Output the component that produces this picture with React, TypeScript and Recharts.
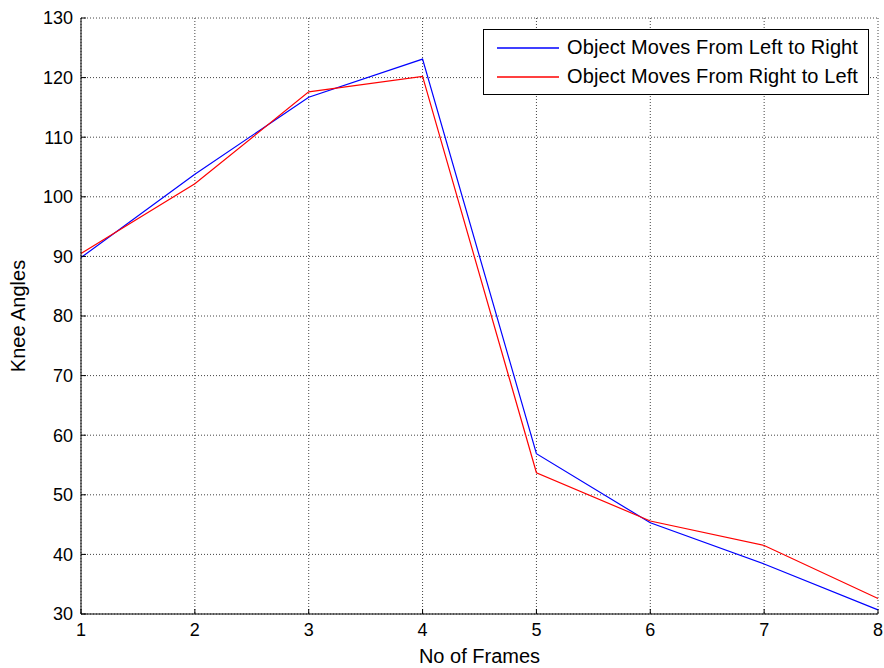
import React from 'react';
import { LineChart, Line, XAxis, YAxis, CartesianGrid, Legend, Label } from 'recharts';

const FRAMES = [1, 2, 3, 4, 5, 6, 7, 8];
const LEFT_TO_RIGHT = [89.8, 103.8, 116.7, 123.1, 56.9, 45.3, 38.4, 30.7];
const RIGHT_TO_LEFT = [90.5, 102.2, 117.6, 120.2, 53.7, 45.6, 41.5, 32.6];
const Y_TICKS = [30, 40, 50, 60, 70, 80, 90, 100, 110, 120, 130];

const data = FRAMES.map((f, i) => ({ frame: f, ltr: LEFT_TO_RIGHT[i], rtl: RIGHT_TO_LEFT[i] }));

const FONT = '"Liberation Sans", Arial, sans-serif';
const tick = { fontSize: 18, fill: '#000', fontFamily: FONT };
const noLabel = () => '';

function BoxLegend(props: any) {
  const items = props.payload || [];
  return (
    <div style={{ border: '1px solid #000', background: '#fff', padding: '3px 0', fontFamily: FONT, fontSize: 20, letterSpacing: 0.1 }}>
      {items.map((it: any) => (
        <div key={it.value} style={{ display: 'flex', alignItems: 'center', height: 29 }}>
          <svg width={62} height={4} style={{ marginLeft: 13, marginRight: 8 }}>
            <line x1={0} x2={62} y1={2} y2={2} stroke={it.color} strokeWidth={1.3} />
          </svg>
          <span style={{ color: '#000' }}>{it.value}</span>
        </div>
      ))}
    </div>
  );
}

export default function App() {
  return (
    <div style={{ position: 'absolute', left: 0, top: 0, background: '#fff' }}>
      <LineChart width={884} height={668} data={data} margin={{ top: 18, right: 6, left: 0, bottom: 0 }}>
        <CartesianGrid stroke="#444" strokeDasharray="1 2" />
        <XAxis
          dataKey="frame"
          type="number"
          domain={[1, 8]}
          ticks={FRAMES}
          height={54}
          tick={tick}
          tickSize={-5}
          tickMargin={14}
          axisLine={{ stroke: '#000' }}
          tickLine={{ stroke: '#000' }}
        >
          <Label value="No of Frames" position="insideBottom" offset={5} style={{ fontSize: 20, fill: '#000', fontFamily: FONT }} />
        </XAxis>
        <XAxis
          xAxisId="top"
          orientation="top"
          dataKey="frame"
          type="number"
          domain={[1, 8]}
          ticks={FRAMES}
          height={0}
          tickFormatter={noLabel}
          tickSize={-5}
          axisLine={{ stroke: '#000' }}
          tickLine={{ stroke: '#000' }}
        />
        <YAxis
          type="number"
          domain={[30, 130]}
          ticks={Y_TICKS}
          width={81}
          tick={tick}
          tickSize={-5}
          tickMargin={13}
          axisLine={{ stroke: '#000' }}
          tickLine={{ stroke: '#000' }}
          label={{
            content: ({ viewBox }: any) => {
              const cx = 25;
              const cy = viewBox.y + viewBox.height / 2;
              return (
                <text x={cx} y={cy} transform={`rotate(-90, ${cx}, ${cy})`} textAnchor="middle" fontSize={20} fontFamily={FONT} fill="#000">
                  Knee Angles
                </text>
              );
            },
          }}
        />
        <YAxis
          yAxisId="right"
          orientation="right"
          type="number"
          domain={[30, 130]}
          ticks={Y_TICKS}
          width={0}
          tickFormatter={noLabel}
          tickSize={-5}
          axisLine={{ stroke: '#000' }}
          tickLine={{ stroke: '#000' }}
        />
        <Legend
          layout="horizontal"
          verticalAlign="middle"
          align="center"
          content={<BoxLegend />}
          wrapperStyle={{ position: 'absolute', left: 483, top: 29, width: 386 }}
        />
        <Line
          name="Object Moves From Left to Right"
          dataKey="ltr"
          stroke="#0000ff"
          strokeWidth={1.2}
          dot={false}
          isAnimationActive={false}
        />
        <Line
          name="Object Moves From Right to Left"
          dataKey="rtl"
          stroke="#ff0000"
          strokeWidth={1.2}
          dot={false}
          isAnimationActive={false}
        />
      </LineChart>
    </div>
  );
}
